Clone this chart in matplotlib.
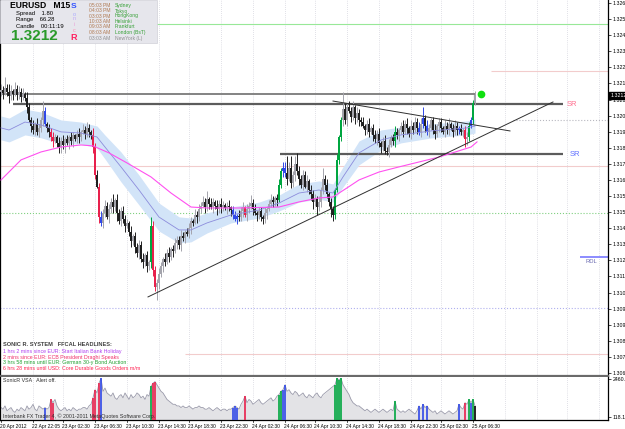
"""
EURUSD M15 - Sonic R system (MT4 screenshot)
Candles, dragon band, MA, SR lines and VSA volume panel.
"""
import matplotlib
matplotlib.use("Agg")
import matplotlib.pyplot as plt
import numpy as np
from matplotlib.patches import Rectangle
from matplotlib.transforms import blended_transform_factory

plt.rcParams["font.family"] = ["Liberation Sans", "DejaVu Sans"]

# ---------------- data ----------------
BASE = 1.30000
OPEN0 = 2140
# closes in points (1e-5) above 1.30000
CLOSE_PTS = [
    2150, 2135, 2160, 2140, 2120, 2145, 2130, 2155, 2125, 2140,
    2115, 2130, 2110, 2060, 1990, 1960, 1940, 1970, 1930, 1950,
    1990, 2040, 1970, 1950, 1930, 1900, 1880, 1900, 1870, 1850,
    1880, 1860, 1890, 1870, 1900, 1880, 1910, 1890, 1920, 1900,
    1930, 1940, 1920, 1950, 1930, 1910, 1850, 1700, 1640, 1480,
    1450, 1500, 1540, 1480, 1520, 1560, 1530, 1570, 1500, 1460,
    1510, 1470, 1430, 1450, 1400, 1350, 1380, 1320, 1290, 1330,
    1260, 1240, 1280, 1220, 1240, 1430, 1200, 1110, 1130, 1180,
    1220, 1260, 1240, 1290, 1270, 1310, 1300, 1340, 1360, 1330,
    1380, 1370, 1400, 1390, 1420, 1460, 1450, 1490, 1480, 1520,
    1540, 1560, 1530, 1575, 1550, 1530, 1560, 1540, 1520, 1550,
    1530, 1545, 1525, 1540, 1530, 1515, 1490, 1470, 1485, 1480,
    1510, 1530, 1490, 1520, 1540, 1555, 1520, 1500, 1490, 1510,
    1480, 1470, 1500, 1520, 1550, 1570, 1560, 1580, 1570, 1650,
    1720, 1740, 1710, 1680, 1740, 1660, 1700, 1760, 1720, 1680,
    1650, 1700, 1640, 1670, 1620, 1600, 1560, 1580, 1530, 1560,
    1620, 1680, 1650, 1600, 1560, 1520, 1490, 1620, 1780, 1900,
    1990, 2050, 1990, 2060, 2040, 2010, 2060, 2000, 2030, 1990,
    1980, 1960, 1940, 1970, 1930, 1950, 1910, 1890, 1920, 1870,
    1850, 1880, 1830, 1825, 1860, 1900, 1880, 1930, 1910, 1940,
    1960, 1930, 1970, 1950, 1920, 1960, 1940, 1980, 1950, 1930,
    1970, 2000, 1960, 1930, 1950, 1990, 1940, 1920, 1960, 1980,
    1950, 1930, 1960, 1940, 1970, 1950, 1930, 1960, 1940, 1950,
    1930, 1940, 1890, 1900, 1960, 1990, 2080, 2125,
]
# wick lengths in pips, one digit per bar
UP_WICK = (
    "3262431423" "2313223132" "2521223213" "2312132123" "1323214232"
    "3232324132" "2322131223" "2312153223" "2132312322" "3212321323"
    "2324132132" "3212312213" "2313242312" "2131232123" "2339362463"
    "2323132213" "2623122131" "2932323132" "2312312323" "1232312321"
    "2323132323" "3623212312" "2132312321" "21232222"
)
DN_WICK = (
    "2312423132" "3223132323" "2312323123" "3241323123" "2132323213"
    "2321323242" "3231232323" "2323233273" "2321323132" "3231232132"
    "2132313232" "3213232132" "2313223132" "2323123231" "2323132323"
    "2313234242" "3232243212" "2323132323" "2132313232" "3222312323"
    "2313232132" "3232312323" "2132313232" "23432121"
)
# tick volume, hundreds
VOLUME = [
    7, 6, 8, 5, 6, 7, 5, 4, 6, 5,
    7, 6, 5, 8, 6, 7, 9, 6, 5, 8,
    7, 6, 7, 6, 7, 12, 10, 12, 8, 6,
    5, 6, 7, 5, 6, 5, 7, 6, 5, 6,
    6, 7, 7, 6, 8, 9, 13, 18, 16, 22,
    25, 17, 19, 16, 15, 14, 16, 13, 12, 14,
    15, 13, 16, 14, 12, 15, 13, 14, 16, 15,
    13, 14, 12, 15, 14, 20, 22, 23, 21, 19,
    17, 16, 14, 12, 11, 10, 9, 9, 8, 8,
    7, 8, 7, 7, 8, 7, 6, 7, 7, 8,
    7, 7, 6, 6, 7, 6, 5, 6, 7, 6,
    5, 6, 6, 5, 6, 6, 7, 8, 7, 6,
    9, 11, 14, 10, 12, 11, 9, 10, 11, 12,
    10, 9, 10, 11, 12, 13, 11, 12, 14, 15,
    17, 18, 21, 17, 18, 16, 15, 17, 16, 14,
    15, 16, 14, 13, 15, 14, 13, 15, 16, 14,
    13, 15, 16, 17, 18, 19, 20, 21, 25, 24,
    25, 21, 19, 17, 15, 12, 10, 9, 8, 8,
    7, 6, 5, 6, 5, 4, 5, 6, 5, 4,
    5, 6, 5, 4, 5, 6, 5, 11, 6, 5,
    4, 5, 4, 5, 6, 5, 4, 3, 5, 8,
    6, 9, 7, 8, 6, 5, 4, 5, 3, 4,
    5, 4, 3, 4, 5, 4, 3, 4, 5, 9,
    7, 6, 10, 9, 12, 10, 12, 8,
]
BLUE_BARS = [22, 50, 116, 117, 118, 141, 142, 209, 211, 213, 229, 235]
RED_BARS = [25, 26, 46, 47, 49, 76, 77, 122, 232]
GREEN_BARS = [75, 139, 140, 167, 168, 169, 170, 197, 234, 236]

# dragon (EMA34 band) and slow MA, read at a few bars
DRAGON_BARS = [0, 4, 12, 20, 30, 40, 48, 52, 60, 69, 79, 89, 95, 103,
               115, 129, 139, 149, 159, 166, 171, 179, 190, 200, 215, 233, 237]
DRAGON_MID = [1950, 1939, 1981, 1966, 1929, 1923, 1902, 1849, 1744, 1622,
              1479, 1411, 1411, 1448, 1490, 1516, 1553, 1606, 1622, 1606,
              1691, 1818, 1886, 1913, 1934, 1950, 1960]
DRAGON_HALF = [63, 63, 68, 68, 63, 58, 58, 63, 79, 79, 74, 69, 63, 53,
               42, 42, 42, 48, 48, 48, 53, 63, 53, 42, 37, 37, 37]
MA_BARS = [0, 10, 20, 30, 40, 46, 54, 63, 75, 85, 95, 103, 119, 139, 149,
           159, 166, 173, 179, 189, 199, 219, 235, 238]
MA_PTS = [1675, 1781, 1823, 1849, 1860, 1855, 1818, 1765, 1691, 1606, 1532,
          1527, 1527, 1532, 1559, 1580, 1585, 1633, 1675, 1717, 1744, 1796,
          1849, 1876]

# chart objects
HIGH_LINE = 1.32129
SR_PRICES = [1.32076, 1.31812]
SR_FROM = [6, 139.5]
SR_TO = 281
TREND_UP = ([73.5, 276], [1.31057, 1.32087])
TREND_DN = ([166, 254.5], [1.32092, 1.31934])
LEVEL_PRICES = [1.32499, 1.32251, 1.31992, 1.31749, 1.31501, 1.31000, 1.30755]
LEVEL_FROM = [76, 245, 256, -0.5, -0.5, -0.5, 92]
RDL_PRICE = 1.31268
BID = 1.32121
DOT = (240, 1.32129)

PRICE_TICKS = [1.30655 + 0.00085 * k for k in range(24)]
VOL_TICKS = [2460.1, 118.1]
TIME_TICKS = [0, 16, 31, 47, 63, 79, 94, 110, 126, 142, 157, 173, 189, 205, 220, 236]
TIME_LABELS = ["20 Apr 2012", "22 Apr 22:05", "23 Apr 02:30", "23 Apr 06:30",
               "23 Apr 10:30", "23 Apr 14:30", "23 Apr 18:30", "23 Apr 22:30",
               "24 Apr 02:30", "24 Apr 06:30", "24 Apr 10:30", "24 Apr 14:30",
               "24 Apr 18:30", "24 Apr 22:30", "25 Apr 02:30", "25 Apr 06:30"]
GRID_EXTRA = [252, 268, 283, 299]

SESSION_TIMES = ["05:03 PM", "04:03 PM", "03:03 PM", "10:03 AM",
                 "09:03 AM", "08:03 AM", "03:03 AM"]
SESSION_CITIES = ["Sydney", "Tokyo", "HongKong", "Helsinki",
                  "Frankfurt", "London (BsT)", "NewYork (L)"]
HEADLINES = [
    ("1 hrs 2 mins since EUR: Start Italian Bank Holiday", "#b040f0"),
    ("2 mins since EUR: ECB President Draghi Speaks", "#f0306a"),
    ("3 hrs 58 mins until EUR: German 30-y Bond Auction", "#20a030"),
    ("6 hrs 28 mins until USD: Core Durable Goods Orders m/m", "#ff2050"),
]

# ---------------- figure ----------------
W, H = 625, 429


def fx(px):
    return px / W


def fy(py):
    return 1 - py / H


fig = plt.figure(figsize=(W / 100, H / 100), dpi=100)
fig.patch.set_facecolor("white")

ax = fig.add_axes([0, fy(376), fx(608), 376 / H])
axv = fig.add_axes([0, fy(420), fx(608), 43 / H])

n = min(len(CLOSE_PTS), len(UP_WICK), len(DN_WICK), len(VOLUME))
x = np.arange(n)
close = BASE + np.array(CLOSE_PTS[:n]) / 1e5
opn = np.r_[BASE + OPEN0 / 1e5, close[:-1]]
up = np.array([int(c) for c in UP_WICK[:n]]) * 1e-4
dn = np.array([int(c) for c in DN_WICK[:n]]) * 1e-4
high = np.maximum(opn, close) + up
low = np.minimum(opn, close) - dn

BLUE_C, RED_C, GREEN_C = "#3048e8", "#e8204c", "#00a640"
LIGHT_C, DARK_C = "#a4a4ac", "#202020"
colors = []
for i in range(n):
    if i in BLUE_BARS:
        colors.append(BLUE_C)
    elif i in RED_BARS:
        colors.append(RED_C)
    elif i in GREEN_BARS:
        colors.append(GREEN_C)
    elif close[i] >= opn[i]:
        colors.append(LIGHT_C)
    else:
        colors.append(DARK_C)

XMIN, XMAX = -0.5, 303.5
YMIN, YMAX = 1.306392, 1.326259

# grid
for g in TIME_TICKS[1:] + GRID_EXTRA:
    ax.axvline(g, color="#c4c4d0", lw=0.5, ls=(0, (1, 2)), zorder=0)
    axv.axvline(g, color="#c4c4d0", lw=0.5, ls=(0, (1, 2)), zorder=0)

# level lines
lvl_styles = [("#98e898", "-"), ("#f2cccc", "-"), ("#b8b8c0", ":"),
              ("#f2cccc", "-"), ("#80d080", ":"), ("#b0b0ee", ":"),
              ("#f2cccc", "-")]
for p, x0, (c, ls) in zip(LEVEL_PRICES, LEVEL_FROM, lvl_styles):
    ax.hlines(p, x0, XMAX, colors=c, lw=0.8, linestyles=ls, zorder=0.5)

# dragon band + MA
mid = BASE + np.array(DRAGON_MID) / 1e5
half = np.array(DRAGON_HALF) / 1e5
ax.fill_between(DRAGON_BARS, mid - half, mid + half, color="#d2e4f8", lw=0, zorder=1)
ax.plot(DRAGON_BARS, mid, color="#8c8cdc", lw=0.6, zorder=4)
ax.plot(MA_BARS, BASE + np.array(MA_PTS) / 1e5, color="#ff50f0", lw=0.8, zorder=4)

# candles
ax.vlines(x, low, high, colors=colors, lw=0.7, zorder=3)
body = np.maximum(np.abs(close - opn), 0.00002)
ax.bar(x, body, bottom=np.minimum(opn, close), width=0.9, color=colors, lw=0, zorder=3)

# horizontal objects
ax.hlines(HIGH_LINE, XMIN, n - 1, colors="#7a7a7a", lw=1.3, zorder=2)
for p, x0 in zip(SR_PRICES, SR_FROM):
    ax.hlines(p, x0, SR_TO, colors="#5c5c5c", lw=1.6, zorder=2)
ax.text(SR_TO + 2, SR_PRICES[0], "SR", color="#ff7090", fontsize=5.5, va="center")
ax.text(SR_TO + 3.5, SR_PRICES[1], "SR", color="#6070ff", fontsize=5.5, va="center")
ax.plot(*TREND_UP, color="#303030", lw=0.7, zorder=5)
ax.plot(*TREND_DN, color="#303030", lw=0.7, zorder=5)
ax.hlines(RDL_PRICE, 289.5, XMAX, colors="#7878ff", lw=1.2, zorder=2)
ax.text(292, RDL_PRICE - 0.00026, "RDL", color="#6a6ab0", fontsize=4.2, va="center")
ax.plot(*DOT, "o", color="#10e010", ms=4.5, zorder=6)

ax.set_xlim(XMIN, XMAX)
ax.set_ylim(YMIN, YMAX)
ax.set_xticks([])
ax.yaxis.tick_right()
ax.set_yticks(PRICE_TICKS)
ax.set_yticklabels([f"{p:.5f}" for p in PRICE_TICKS])
ax.tick_params(axis="y", labelsize=3.8, length=2, width=0.5, pad=1.2, colors="black")
for s in ["left", "right"]:
    ax.spines[s].set_color("black")
    ax.spines[s].set_linewidth(0.9)
ax.spines["top"].set_visible(False)
ax.spines["bottom"].set_color("#6a6a6a")
ax.spines["bottom"].set_linewidth(1.6)

tr = blended_transform_factory(ax.transAxes, ax.transData)
ax.text(1.004, BID, "1.32121", transform=tr, fontsize=3.8, color="white",
        va="center", ha="left", zorder=10, clip_on=False,
        bbox=dict(boxstyle="square,pad=0.25", fc="black", ec="black"))

# volume panel
vol = np.array(VOLUME[:n]) * 100.0
VMIN, VMAX = -66.8, 2583
axv.fill_between(x, vol, VMIN, color="#e3e3e6", lw=0, zorder=1)
axv.plot(x, vol, color="#9a9aaa", lw=0.6, zorder=2)
for idxs, c in [(BLUE_BARS, BLUE_C), (RED_BARS, RED_C), (GREEN_BARS, GREEN_C), ([n - 1], "black")]:
    idxs = [i for i in idxs if i < n]
    axv.vlines(idxs, VMIN, vol[idxs], colors=c, lw=1.2, zorder=3)
axv.set_xlim(XMIN, XMAX)
axv.set_ylim(VMIN, VMAX)
axv.set_xticks([])
axv.yaxis.tick_right()
axv.set_yticks(VOL_TICKS)
axv.set_yticklabels([f"{v:.1f}" for v in VOL_TICKS])
axv.tick_params(axis="y", labelsize=3.8, length=2, width=0.5, pad=1.2)
for s in ["left", "right", "bottom"]:
    axv.spines[s].set_color("black")
    axv.spines[s].set_linewidth(0.9)
axv.spines["top"].set_visible(False)
axv.text(0.005, 0.92, "SonicR VSA   Alert off.", transform=axv.transAxes,
         fontsize=3.8, color="#303030", va="center")
axv.text(0.005, 0.1, "Interbank FX Trader 4, \u00a9 2001-2011 MetaQuotes Software Corp.",
         transform=axv.transAxes, fontsize=3.8, color="#303030", va="center")

# time axis labels
trv = blended_transform_factory(axv.transData, axv.transAxes)
for t, lab in zip(TIME_TICKS, TIME_LABELS):
    axv.plot([t, t], [0, -0.05], transform=trv, color="black", lw=0.5, clip_on=False)
    axv.text(t - 0.5, -0.1, lab, transform=trv, fontsize=3.5, ha="left", va="top",
             color="black", clip_on=False)

# info box top-left
fig.add_artist(Rectangle((0, fy(43)), fx(157), 43 / H, transform=fig.transFigure,
                         fc="#e6e6ec", ec="#d0d0d8", lw=0.5, zorder=20))
fig.text(fx(10), fy(6), "EURUSD   M15", fontsize=6.2, weight="bold", va="center", zorder=21)
fig.text(fx(16), fy(13), "Spread    1.80", fontsize=4.2, va="center", zorder=21)
fig.text(fx(16), fy(19.5), "Range    66.28", fontsize=4.2, va="center", zorder=21)
fig.text(fx(16), fy(26), "Candle    00:11:19", fontsize=4.2, va="center", zorder=21)
fig.text(fx(11), fy(36), "1.3212", fontsize=11, weight="bold", color="#2a9a2a",
         va="center", zorder=21)
sonic = [("S", "#3050ff", 6, "bold", 6), ("o", "#a8a8ff", 4, "normal", 14),
         ("n", "#c0a8f8", 4, "normal", 19), ("i", "#e8a0d8", 4, "normal", 24),
         ("c", "#ff8ab0", 4, "normal", 30), ("R", "#ff2060", 6.5, "bold", 37.5)]
for ch, c, fs, wt, yy in sonic:
    fig.text(fx(74), fy(yy), ch, color=c, fontsize=fs, weight=wt, ha="center",
             va="center", zorder=21)
rows = [5.7, 11, 16, 21.3, 26.7, 32.5, 38.3]
for k, (tm, city, yy) in enumerate(zip(SESSION_TIMES, SESSION_CITIES, rows)):
    last = k == len(SESSION_TIMES) - 1
    fig.text(fx(89), fy(yy), tm, fontsize=3.6, color="#909090" if last else "#b07a52",
             va="center", zorder=21)
    fig.text(fx(115), fy(yy), city, fontsize=3.6, color="#909090" if last else "#36a036",
             va="center", zorder=21)

# headlines bottom-left
fig.text(fx(3), fy(345), "SONIC R. SYSTEM   FFCAL HEADLINES:", fontsize=4.1,
         weight="bold", color="#404040", va="center")
for k, (txt, c) in enumerate(HEADLINES):
    fig.text(fx(3), fy(351.5 + 5.6 * k), txt, fontsize=3.8, color=c, va="center")

fig.savefig("out.png", dpi=100)
